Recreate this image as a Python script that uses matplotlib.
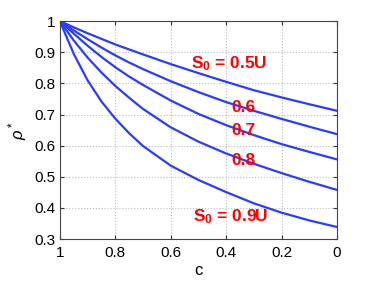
import matplotlib
matplotlib.use("Agg")
import matplotlib.pyplot as plt

plt.rcParams['font.family'] = ['Liberation Sans', 'DejaVu Sans']
plt.rcParams['mathtext.fontset'] = 'custom'
plt.rcParams['mathtext.rm'] = 'Liberation Sans'
plt.rcParams['mathtext.it'] = 'Liberation Sans:italic'
plt.rcParams['mathtext.bf'] = 'Liberation Sans:bold'

c = [1.0, 0.95, 0.9, 0.85, 0.8, 0.75, 0.7, 0.6, 0.5, 0.4, 0.3, 0.2, 0.1, 0.0]
rho_05 = [1.0, 0.980, 0.961, 0.943, 0.925, 0.909, 0.893, 0.862, 0.833, 0.805, 0.778, 0.755, 0.733, 0.712]
rho_06 = [1.0, 0.970, 0.942, 0.915, 0.890, 0.867, 0.846, 0.807, 0.772, 0.740, 0.712, 0.686, 0.661, 0.637]
rho_07 = [1.0, 0.960, 0.921, 0.885, 0.852, 0.822, 0.795, 0.745, 0.702, 0.666, 0.634, 0.605, 0.580, 0.556]
rho_08 = [1.0, 0.938, 0.883, 0.835, 0.792, 0.754, 0.718, 0.659, 0.613, 0.575, 0.542, 0.512, 0.484, 0.458]
rho_09 = [1.0, 0.895, 0.810, 0.742, 0.687, 0.640, 0.599, 0.536, 0.490, 0.451, 0.415, 0.385, 0.360, 0.339]
series = [rho_05, rho_06, rho_07, rho_08, rho_09]

labels = [r'S$_\mathbf{0}$ = 0.5U', '0.6', '0.7', '0.8', r'S$_\mathbf{0}$ = 0.9U']
label_pos = [(0.525, 0.862), (0.380, 0.721), (0.380, 0.650), (0.380, 0.551), (0.519, 0.371)]

xticks = [1, 0.8, 0.6, 0.4, 0.2, 0]
xticklabels = ['1', '0.8', '0.6', '0.4', '0.2', '0']
yticks = [0.3, 0.4, 0.5, 0.6, 0.7, 0.8, 0.9, 1.0]
yticklabels = ['0.3', '0.4', '0.5', '0.6', '0.7', '0.8', '0.9', '1']

fig = plt.figure(figsize=(3.74, 2.81), dpi=100)
ax = fig.add_axes([0.160, 0.149, 0.741, 0.776])

for s in series:
    ax.plot(c, s, color='#2a3cff', lw=1.6)

for lab, (x, y) in zip(labels, label_pos):
    ax.text(x, y, lab, color='red', fontsize=12.5, fontweight='bold', ha='left', va='center')

ax.set_xlim(1, 0)
ax.set_ylim(0.3, 1.0)
ax.set_xticks(xticks)
ax.set_xticklabels(xticklabels, fontsize=11)
ax.set_yticks(yticks)
ax.set_yticklabels(yticklabels, fontsize=11)
ax.grid(True, linestyle=':', color='#bbbbbb', lw=0.8)
ax.tick_params(direction='in', top=True, right=True, length=3, color='#333333')
ax.tick_params(axis='x', pad=5)
ax.tick_params(axis='y', pad=3)
for sp in ax.spines.values():
    sp.set_color('#444444')
    sp.set_linewidth(0.8)
ax.set_xlabel('c', fontsize=12, labelpad=2)
ax.set_ylabel(r'$\rho^*$', fontsize=12, labelpad=4)

fig.savefig('out.png', dpi=100)
